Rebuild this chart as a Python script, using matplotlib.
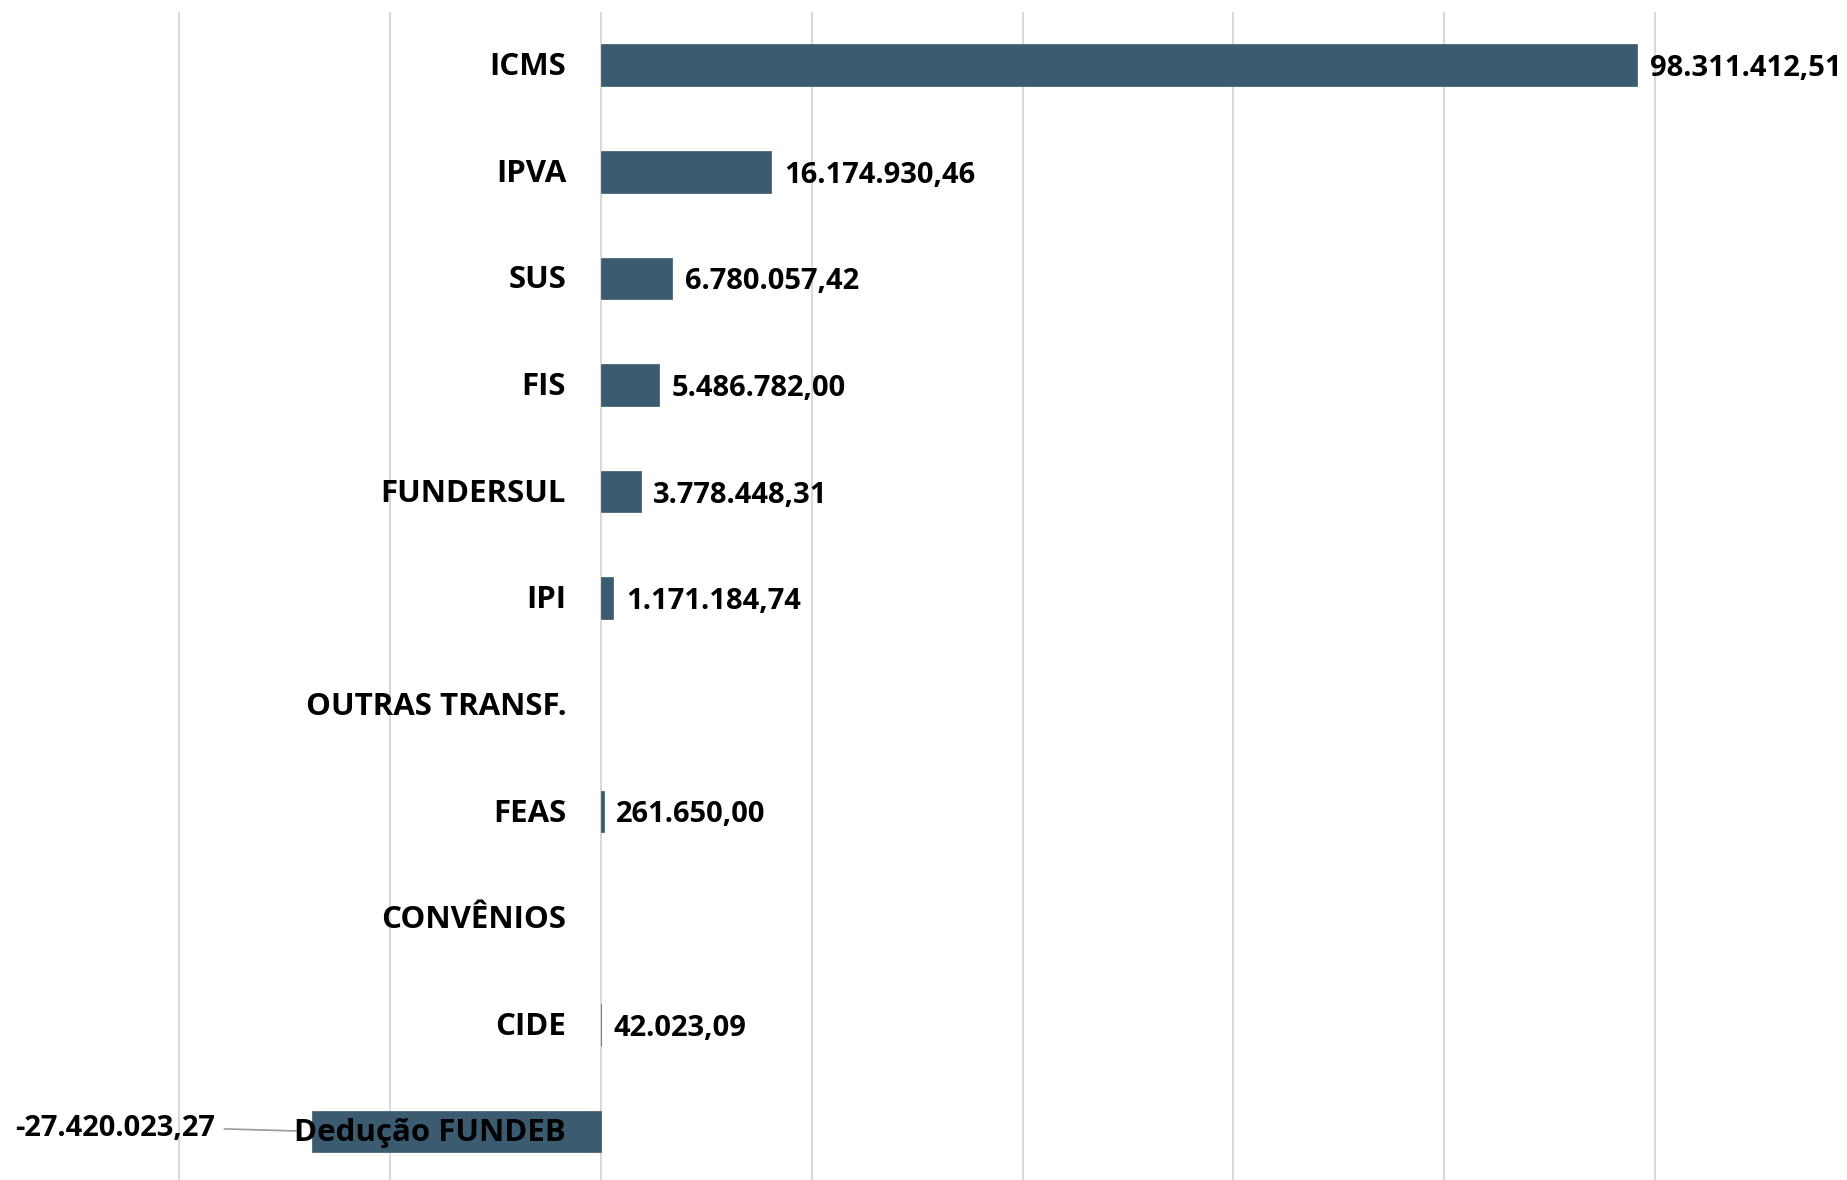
import numpy as np
import matplotlib.pyplot as plt

categorias = ["ICMS", "IPVA", "SUS", "FIS", "FUNDERSUL", "IPI", "OUTRAS TRANSF.",
              "FEAS", "CONVÊNIOS", "CIDE", "Dedução FUNDEB"]
valores = [98311412.51, 16174930.46, 6780057.42, 5486782.00, 3778448.31, 1171184.74,
           0.0, 261650.00, 0.0, 42023.09, -27420023.27]

cor = "#3A5B70"
plt.rcParams['font.family'] = ['Open Sans', 'DejaVu Sans']


def fmt_br(v):
    s = f"{v:,.2f}"
    return s.replace(",", "X").replace(".", ",").replace("X", ".")


fig = plt.figure(figsize=(18.47, 11.80), dpi=100)
ax = fig.add_axes([0, -0.004, 1, 0.994])

y = np.arange(len(categorias))
larguras = [0.5 if v != 0 else 0 for v in valores]
ax.barh(y, valores, height=0.39, color=cor, edgecolor=cor, linewidth=larguras, zorder=2)
ax.set_ylim(len(categorias) - 0.5, -0.5)
ax.set_xlim(-57e6, 118.2e6)
ax.set_xticks(np.arange(-40e6, 101e6, 20e6))
ax.grid(axis='x', color='#D9D9D9', linewidth=1.5, zorder=0)
ax.set_yticks([])
ax.tick_params(axis='x', length=0, labelbottom=False)
for s in ax.spines.values():
    s.set_visible(False)

for i, (c, v) in enumerate(zip(categorias, valores)):
    ax.annotate(c, xy=(0, i), xytext=(-25, -1.5), textcoords='offset points',
                ha='right', va='center', fontsize=22.5, fontweight='bold', zorder=4)
    if v > 0:
        ax.annotate(fmt_br(v), xy=(v, i), xytext=(9, -2.5), textcoords='offset points',
                    ha='left', va='center', fontsize=21, fontweight='bold')
    elif v < 0:
        ax.annotate(fmt_br(v), xy=(v, i), xytext=(-70, 2), textcoords='offset points',
                    ha='right', va='center', fontsize=21, fontweight='bold',
                    arrowprops=dict(arrowstyle='-', color='#999999', lw=1.2,
                                    relpos=(1, 0.5), shrinkA=5, shrinkB=9))

fig.savefig("out.png", dpi=100)
